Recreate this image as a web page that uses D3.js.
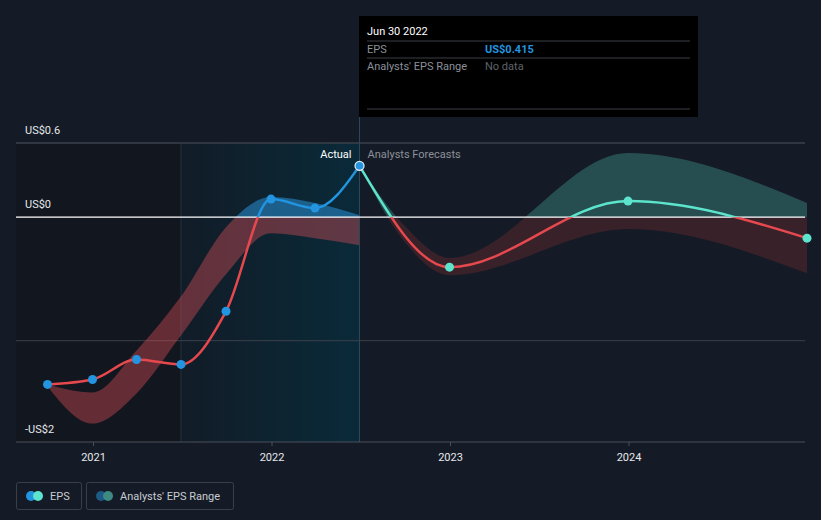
<!DOCTYPE html>
<html><head><meta charset="utf-8">
<script src="https://cdn.jsdelivr.net/npm/d3@7/dist/d3.min.js"></script>
<style>
html,body{margin:0;padding:0;background:#151b26;}
svg{display:block;font-family:Roboto,"Open Sans",sans-serif;}
</style></head>
<body>
<svg id="c" width="821" height="520"></svg>
<script>
// ---- data ----
const pastDates = ["2020-09-30","2020-12-31","2021-03-31","2021-06-30","2021-09-30","2021-12-31","2022-03-31","2022-06-30"];
const pastEPS   = [-1.354,-1.314,-1.152,-1.192,-0.762,0.146,0.073,0.415];
const pastHigh  = [-1.354,-1.419,-1.079,-0.641,-0.081,0.162,0.114,0.016];
const pastLow   = [-1.370,-1.671,-1.427,-0.957,-0.462,-0.130,-0.170,-0.227];
const fcDates   = ["2022-06-30","2022-12-31","2023-12-31","2024-12-31"];
const fcEPS     = [0.415,-0.405,0.130,-0.170];
const bandDates = ["2022-06-30","2022-09-30","2022-12-31","2023-12-31","2024-12-31"];
const fcHigh    = [0.415,-0.070,-0.330,0.519,0.114];
const fcLow     = [0.415,-0.200,-0.470,-0.097,-0.454];
const yTickVals = [0.6,0,-1.82];
const yTickLabels = ["US$0.6","US$0","-US$2"];
const yGridVals = [0.6,-1];
const xTickYears = ["2021","2022","2023","2024"];
const tooltipDate = "Jun 30 2022";
const tooltipEPS = "US$0.415";
const highlightStart = "2021-06-30";
const nowDate = "2022-06-30";

// ---- setup ----
const svg = d3.select("#c");
const W = 821, H = 520;
const L = 16, R = 805, T = 143, B = 442;
const parse = d3.utcParse("%Y-%m-%d");
const x = d3.scaleUtc().domain([parse("2021-01-01"), parse("2024-01-01")]).range([93, 628.5]);
const y = d3.scaleLinear().domain([-1.82, 0.6]).range([B, T]);
const y0 = y(0);

const past = pastDates.map((d,i)=>({d:parse(d), v:pastEPS[i], hi:pastHigh[i], lo:pastLow[i]}));
const fc = fcDates.map((d,i)=>({d:parse(d), v:fcEPS[i]}));
const fcBand = bandDates.map((d,i)=>({d:parse(d), hi:fcHigh[i], lo:fcLow[i]}));

const defs = svg.append("defs");
const grad = defs.append("linearGradient").attr("id","hl").attr("x1","0").attr("x2","1").attr("y1","0").attr("y2","0");
grad.append("stop").attr("offset","0").attr("stop-color","#111c27");
grad.append("stop").attr("offset","1").attr("stop-color","#0a2a39");
defs.append("clipPath").attr("id","above").append("rect").attr("x",0).attr("y",0).attr("width",W).attr("height",y0);
defs.append("clipPath").attr("id","below").append("rect").attr("x",0).attr("y",y0).attr("width",W).attr("height",H-y0);

svg.append("rect").attr("width",W).attr("height",H).attr("fill","#151b26");

const xh = x(parse(highlightStart)), xn = x(parse(nowDate));
svg.append("rect").attr("x",L).attr("y",T).attr("width",xh-L).attr("height",B-T).attr("fill","#12161f");
svg.append("rect").attr("x",xh).attr("y",T).attr("width",xn-xh).attr("height",B-T).attr("fill","url(#hl)");
svg.append("line").attr("x1",xh).attr("x2",xh).attr("y1",T).attr("y2",B).attr("stroke","#1d3440").attr("stroke-width",1);

svg.selectAll(".grid").data(yGridVals).join("line")
  .attr("x1",L).attr("x2",R).attr("y1",d=>y(d)).attr("y2",d=>y(d))
  .attr("stroke","#3a414c").attr("stroke-width",1);

// bands
const area = d3.area().x(d=>x(d.d)).y0(d=>y(d.lo)).y1(d=>y(d.hi)).curve(d3.curveMonotoneX);
const bandG = svg.append("g");
bandG.append("path").datum(past).attr("d",area).attr("fill","#2a8fd6").attr("fill-opacity",0.55).attr("clip-path","url(#above)");
bandG.append("path").datum(past).attr("d",area).attr("fill","#e0505a").attr("fill-opacity",0.4).attr("clip-path","url(#below)");
bandG.append("path").datum(fcBand).attr("d",area).attr("fill","#4fc8b4").attr("fill-opacity",0.3).attr("clip-path","url(#above)");
bandG.append("path").datum(fcBand).attr("d",area).attr("fill","#dc3c3c").attr("fill-opacity",0.18).attr("clip-path","url(#below)");

svg.append("line").attr("x1",xn).attr("x2",xn).attr("y1",16).attr("y2",B).attr("stroke","#2c4a58").attr("stroke-width",1);

svg.append("line").attr("x1",L).attr("x2",R).attr("y1",y0).attr("y2",y0).attr("stroke","#ffffff").attr("stroke-width",1.2);

const xAxis = d3.axisBottom(x).tickValues(xTickYears.map(s=>parse(s+"-01-01"))).tickFormat(d3.utcFormat("%Y")).tickSize(4).tickPadding(7);
const gx = svg.append("g").attr("transform",`translate(0,${B})`).call(xAxis);
gx.select(".domain").remove();
gx.append("line").attr("x1",L).attr("x2",R).attr("stroke","#4a505a").attr("stroke-width",1);
gx.selectAll(".tick line").attr("stroke","#4a505a");
gx.selectAll(".tick text").attr("fill","#e6e8eb").attr("font-size",11).attr("font-family","Roboto");
svg.append("line").attr("x1",L).attr("x2",R).attr("y1",T).attr("y2",T).attr("stroke","#3a414c");

svg.selectAll(".ylab").data(yTickVals).join("text")
  .attr("x",25).attr("y",d=>y(d)-9).attr("fill","#e6e8eb").attr("font-size",11).text((d,i)=>yTickLabels[i]);

const line = d3.line().x(d=>x(d.d)).y(d=>y(d.v)).curve(d3.curveMonotoneX);
const lg = svg.append("g").attr("fill","none").attr("stroke-width",2.5).attr("stroke-linecap","round");
lg.append("path").datum(past).attr("d",line).attr("stroke","#2394df").attr("clip-path","url(#above)");
lg.append("path").datum(past).attr("d",line).attr("stroke","#e5484d").attr("clip-path","url(#below)");
lg.append("path").datum(fc).attr("d",line).attr("stroke","#5de4cc").attr("clip-path","url(#above)");
lg.append("path").datum(fc).attr("d",line).attr("stroke","#e5484d").attr("clip-path","url(#below)");

svg.selectAll(".pd").data(past.slice(0,-1)).join("circle")
  .attr("cx",d=>x(d.d)).attr("cy",d=>y(d.v)).attr("r",4.5).attr("fill","#2394df");
svg.selectAll(".fd").data(fc.slice(1)).join("circle")
  .attr("cx",d=>x(d.d)).attr("cy",d=>y(d.v)).attr("r",4.5).attr("fill","#5de4cc");
const lastP = past[past.length-1];
svg.append("circle").attr("cx",x(lastP.d)).attr("cy",y(lastP.v)).attr("r",4.5).attr("fill","#2394df").attr("stroke","#dfe9f2").attr("stroke-width",1.3);

svg.append("text").attr("x",xn-8).attr("y",158).attr("text-anchor","end").attr("fill","#ffffff").attr("font-size",11).text("Actual");
svg.append("text").attr("x",xn+8).attr("y",158).attr("fill","#8b9099").attr("font-size",11).text("Analysts Forecasts");

const tt = svg.append("g");
tt.append("rect").attr("x",359).attr("y",16).attr("width",339).attr("height",101).attr("fill","#000000");
tt.append("text").attr("x",367).attr("y",35).attr("fill","#ffffff").attr("font-size",11).text(tooltipDate);
[41,58,109].forEach(yy=>tt.append("line").attr("x1",367).attr("x2",690).attr("y1",yy).attr("y2",yy).attr("stroke","#3c3f44"));
tt.append("text").attr("x",367).attr("y",53).attr("fill","#8b9099").attr("font-size",11).text("EPS");
tt.append("text").attr("x",485).attr("y",53).attr("fill","#2394df").attr("font-size",11).attr("font-weight","bold").text(tooltipEPS);
tt.append("text").attr("x",367).attr("y",70).attr("fill","#8b9099").attr("font-size",11).text("Analysts' EPS Range");
tt.append("text").attr("x",485).attr("y",70).attr("fill","#5f636a").attr("font-size",11).text("No data");

const lgd = svg.append("g");
lgd.append("rect").attr("x",16.5).attr("y",482.5).attr("width",65).attr("height",27).attr("rx",2).attr("fill","none").attr("stroke","#3a404a");
lgd.append("circle").attr("cx",31).attr("cy",496).attr("r",5).attr("fill","#2394df");
lgd.append("circle").attr("cx",38).attr("cy",496).attr("r",5).attr("fill","#5de4cc");
lgd.append("text").attr("x",50).attr("y",500).attr("fill","#c8ccd2").attr("font-size",11).text("EPS");
lgd.append("rect").attr("x",86.5).attr("y",482.5).attr("width",147).attr("height",27).attr("rx",2).attr("fill","none").attr("stroke","#3a404a");
lgd.append("circle").attr("cx",101).attr("cy",496).attr("r",5).attr("fill","#1e5a86");
lgd.append("circle").attr("cx",108).attr("cy",496).attr("r",5).attr("fill","#3d8a82");
lgd.append("text").attr("x",120).attr("y",500).attr("fill","#c8ccd2").attr("font-size",11).text("Analysts' EPS Range");
</script>
</body></html>
